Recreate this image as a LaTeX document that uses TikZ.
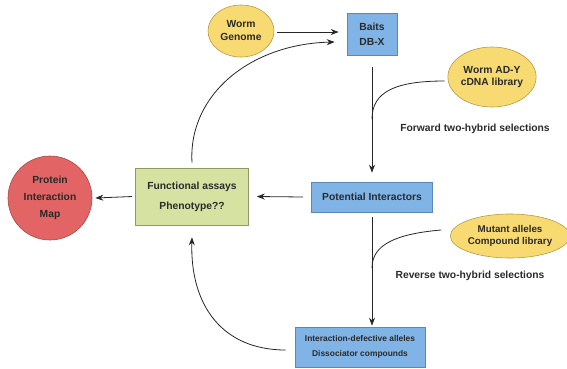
\documentclass[tikz,border=0pt]{standalone}
\usepackage{fontspec}
\setmainfont{Liberation Sans}
\usetikzlibrary{arrows.meta,shapes.geometric}
\definecolor{boxblue}{HTML}{80B4E6}
\definecolor{boxblueb}{HTML}{5A86B8}
\definecolor{ellyel}{HTML}{F8DA72}
\definecolor{ellyelb}{HTML}{B89A48}
\definecolor{boxgreen}{HTML}{D6E2A2}
\definecolor{boxgreenb}{HTML}{8E9A66}
\definecolor{mapred}{HTML}{E26464}
\definecolor{mapredb}{HTML}{A84848}
\definecolor{txt}{HTML}{2A2A2A}
\begin{document}
\begin{tikzpicture}[x=1pt,y=-1pt,
  every node/.style={font=\fontsize{10.3}{12}\selectfont\bfseries, text=txt, align=center, inner sep=0pt},
  bluebox/.style={draw=boxblueb, fill=boxblue, line width=0.6pt},
  yellipse/.style={ellipse, draw=ellyelb, fill=ellyel, line width=0.6pt},
  arr/.style={-{Stealth[length=8pt,width=6pt]}, line width=0.8pt, black!85},
  plain/.style={line width=0.8pt, black!85}]
\useasboundingbox (0,0) rectangle (567,368);
% nodes
\node[yellipse, minimum width=66pt, minimum height=52pt] (genome) at (241,31) {Worm\\[1pt]Genome};
\node[bluebox, minimum width=50pt, minimum height=42pt] (baits) at (372,34) {Baits\\[3pt]DB-X};
\node[yellipse, minimum width=86pt, minimum height=60pt] (ady) at (492,77) {Worm AD-Y\\cDNA library};
\node (fwd) at (475,129) {Forward two-hybrid selections};
\node[bluebox, minimum width=121pt, minimum height=30pt] (pot) at (372,197) {Potential Interactors};
\node[draw=boxgreenb, fill=boxgreen, line width=0.6pt, minimum width=113pt, minimum height=57pt] (func) at (192,196.5) {Functional assays\\[8pt]Phenotype??};
\node[circle, draw=mapredb, fill=mapred, line width=0.6pt, minimum size=84pt] (map) at (50,198) {Protein\\[5pt]Interaction\\[5pt]Map};
\node[yellipse, minimum width=108pt, minimum height=44pt, font=\fontsize{9.8}{11.5}\selectfont\bfseries] (mut) at (510,236) {Mutant alleles\\Compound library};
\node (rev) at (470,276) {Reverse two-hybrid selections};
\node[bluebox, minimum width=130pt, minimum height=40pt, font=\fontsize{8.4}{10}\selectfont\bfseries] (def) at (360,347) {Interaction-defective alleles\\[5pt]Dissociator compounds};
% merge coordinates
\coordinate (m1) at (372,119);
\coordinate (m2) at (372,268);
% connectors
\draw[arr] (genome.east) ++(3,1) -- ([xshift=-8pt,yshift=2pt]baits.west);
\draw[plain] ([yshift=-12pt]baits.south) -- (m1);
\draw[arr] (m1) -- ([yshift=9pt]pot.north);
\draw[plain] ([xshift=-3pt,yshift=-4pt]ady.west) .. controls (395,81) and (372,92) .. (m1);
\draw[arr] ([xshift=-8pt]pot.west) -- ([xshift=8pt]func.east);
\draw[arr] ([xshift=-3pt]func.west) -- ([xshift=3pt]map.east);
\draw[arr] ([yshift=5pt]func.north) .. controls (188,95) and (250,44) .. ([xshift=-12pt,yshift=-8pt]baits.west);
\draw[plain] ([yshift=-5pt]pot.south) -- (m2);
\draw[arr] (m2) -- ([xshift=12pt,yshift=1pt]def.north);
\draw[plain] ([xshift=-9pt,yshift=6pt]mut.west) .. controls (395,234) and (372,245) .. (m2);
\draw[arr] ([xshift=-9pt,yshift=-3pt]def.west) .. controls (222,350) and (190,305) .. ([yshift=-12pt]func.south);
\end{tikzpicture}
\end{document}
